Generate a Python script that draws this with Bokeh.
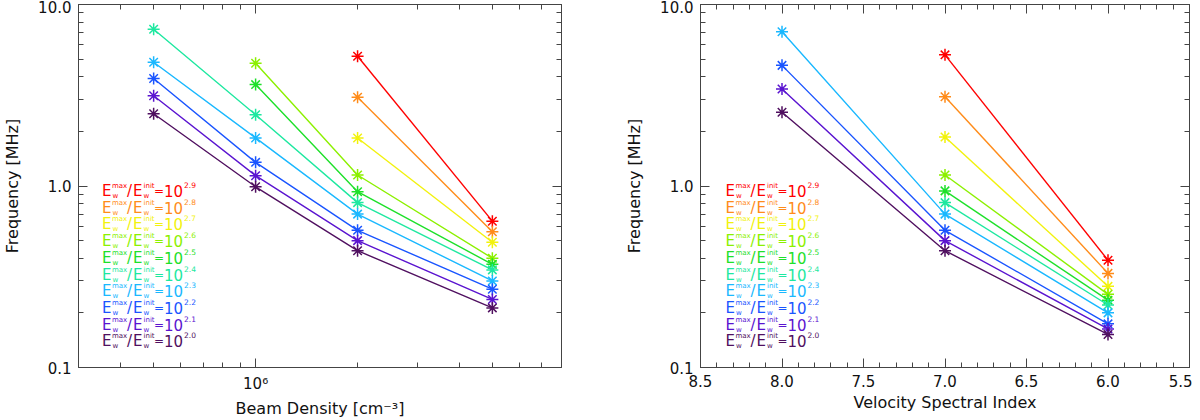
from bokeh.plotting import figure
from bokeh.layouts import row
from bokeh.models import (Range1d, FixedTicker, LogAxis, LinearAxis, ColumnDataSource,
                          PrintfTickFormatter, CustomJSTickFormatter)
from bokeh.core.properties import value
from bokeh.embed import file_html
from bokeh.resources import INLINE

nan = float("nan")

## Data

# exponent of E_w^max / E_w^init, one curve each
ratio_exp = ["2.9", "2.8", "2.7", "2.6", "2.5", "2.4", "2.3", "2.2", "2.1", "2.0"]
line_colors = ["#ff0000", "#ff8c1a", "#f2f20d", "#8cf000", "#1ee02a",
               "#1ee8a0", "#1ab8ff", "#1a55ff", "#5a14d0", "#501060"]

# left panel: frequency vs beam density
beam_density = [5e5, 1e6, 2e6, 5e6]
freq_density = [
    [nan, nan, 5.19, 0.64],
    [nan, nan, 3.08, 0.56],
    [nan, nan, 1.84, 0.49],
    [nan, 4.75, 1.15, 0.40],
    [nan, 3.62, 0.93, 0.37],
    [7.31, 2.47, 0.81, 0.345],
    [4.81, 1.84, 0.70, 0.30],
    [3.91, 1.35, 0.57, 0.27],
    [3.14, 1.14, 0.50, 0.237],
    [2.50, 0.99, 0.44, 0.213],
]

# right panel: frequency vs velocity spectral index
spectral_index = [8.0, 7.0, 6.0]
freq_index = [
    [nan, 5.28, 0.39],
    [nan, 3.10, 0.33],
    [nan, 1.86, 0.28],
    [nan, 1.15, 0.253],
    [nan, 0.94, 0.235],
    [nan, 0.81, 0.221],
    [7.07, 0.70, 0.200],
    [4.62, 0.57, 0.174],
    [3.42, 0.50, 0.163],
    [2.55, 0.44, 0.152],
]

# ticks
y_major = [0.1, 1.0, 10.0]
y_minor = [0.2, 0.3, 0.4, 0.5, 0.6, 0.7, 0.8, 0.9, 2, 3, 4, 5, 6, 7, 8, 9]
dens_major = [1e6]
dens_minor = [4e5, 5e5, 6e5, 7e5, 8e5, 9e5, 2e6, 3e6, 4e6, 5e6, 6e6, 7e6]
dens_labels = {1e6: "10\u2076"}
index_major = [8.5, 8.0, 7.5, 7.0, 6.5, 6.0, 5.5]
index_minor = [round(5.5 + 0.1 * i, 1) for i in range(31)]

FONT = "DejaVu Sans"
FRAME = "#444444"
HEIGHT = 420


def style_axis(ax, ticker, show_labels=True):
    ax.ticker = ticker
    ax.axis_line_color = FRAME
    ax.major_tick_line_color = FRAME
    ax.minor_tick_line_color = FRAME
    ax.major_tick_in = 9
    ax.major_tick_out = 0
    ax.minor_tick_in = 5
    ax.minor_tick_out = 0
    ax.major_label_text_font = FONT
    ax.major_label_text_color = "#111111"
    ax.axis_label_text_font = FONT
    ax.axis_label_text_font_style = "normal"
    ax.axis_label_text_font_size = "16px"
    ax.axis_label_text_color = "#111111"
    if show_labels:
        ax.major_label_text_font_size = "15px"
        ax.major_label_standoff = 7
    else:
        # box side: ticks only
        ax.formatter = CustomJSTickFormatter(code="return ' '")
        ax.major_label_text_font_size = "1px"
        ax.major_label_standoff = 0


def add_legend(p, x0):
    n = len(ratio_exp)
    dy = [5 + 16.7 * i for i in range(n)]
    data = dict(x=[x0] * n, y=[1.0] * n, c=line_colors, e=ratio_exp)
    # (text, x offset, y offset, font size)
    pieces = [("E", 0, 0, "15px"), ("max", 10, -5, "7px"), ("w", 10.5, 5, "7px"),
              ("/", 25, 0, "15px"), ("E", 31, 0, "15px"), ("init", 41.5, -5, "7px"),
              ("w", 41.5, 5, "7px"), ("=", 52, 0, "12px"), ("10", 62, 0, "15px")]
    for k, (txt, ox, oy, fs) in enumerate(pieces):
        data["dy%d" % k] = [d + oy for d in dy]
    data["dye"] = [d - 6 for d in dy]
    src = ColumnDataSource(data)
    for k, (txt, ox, oy, fs) in enumerate(pieces):
        p.text(x="x", y="y", text=value(txt), x_offset=ox, y_offset="dy%d" % k,
               text_color="c", text_font=value(FONT), text_font_size=fs,
               text_baseline="middle", text_align="left", source=src)
    p.text(x="x", y="y", text="e", x_offset=82, y_offset="dye",
           text_color="c", text_font=value(FONT), text_font_size="7.5px",
           text_baseline="middle", text_align="left", source=src)


def make_panel(xs, series, x_range, x_log, x_major, x_minor, x_fmt, xlabel,
               width, b_left, b_right):
    p = figure(width=width, height=HEIGHT, x_range=x_range, y_range=Range1d(0.1, 10),
               x_axis_type="log" if x_log else "linear", y_axis_type="log",
               output_backend="svg", toolbar_location=None,
               min_border_left=b_left, min_border_right=b_right,
               min_border_top=1, min_border_bottom=2)
    p.grid.visible = False
    p.outline_line_color = FRAME
    p.background_fill_color = "white"
    p.border_fill_color = "white"

    xax = p.below[0]
    yax = p.left[0]
    style_axis(xax, FixedTicker(ticks=x_major, minor_ticks=x_minor))
    style_axis(yax, FixedTicker(ticks=y_major, minor_ticks=y_minor))
    if isinstance(x_fmt, dict):
        xax.major_label_overrides = x_fmt
    else:
        xax.formatter = x_fmt
    xax.axis_label = xlabel
    xax.axis_label_standoff = 3
    yax.axis_label = "Frequency [MHz]"
    yax.axis_label_standoff = 13
    yax.formatter = PrintfTickFormatter(format="%.1f")

    top = LogAxis() if x_log else LinearAxis()
    style_axis(top, FixedTicker(ticks=x_major, minor_ticks=x_minor), False)
    p.add_layout(top, "above")
    right = LogAxis()
    style_axis(right, FixedTicker(ticks=y_major, minor_ticks=y_minor), False)
    p.add_layout(right, "right")

    for vals, col in zip(series, line_colors):
        p.line(xs, vals, line_color=col, line_width=1.4)
        p.scatter(xs, vals, marker="asterisk", size=12, line_color=col, line_width=1.5)
    return p


left = make_panel(beam_density, freq_density, Range1d(3e5, 8e6), True,
                  dens_major, dens_minor, dens_labels, "Beam Density [cm\u207b\u00b3]",
                  600, 74, 39)
add_legend(left, 3.52e5)

right = make_panel(spectral_index, freq_index, Range1d(8.5, 5.5), False,
                   index_major, index_minor, PrintfTickFormatter(format="%.1f"),
                   "Velocity Spectral Index", 592, 100, 2)
add_legend(right, 8.347)

layout = row(left, right)
open("out.html", "w").write(file_html(layout, INLINE))
